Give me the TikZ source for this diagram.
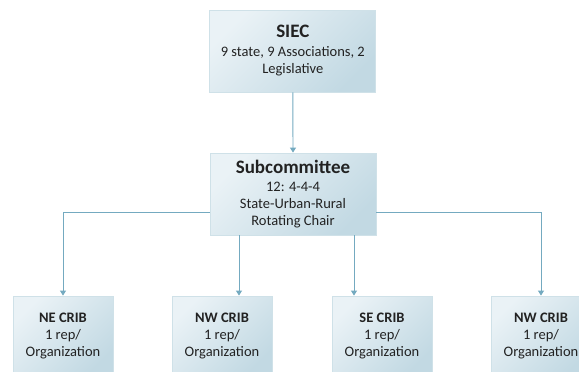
\documentclass[tikz,border=0pt]{standalone}
\usepackage{fontspec}
\setmainfont{Carlito}
\usetikzlibrary{arrows.meta}
\definecolor{boxlight}{HTML}{EAF2F6}
\definecolor{boxdark}{HTML}{C2D9E3}
\definecolor{boxline}{HTML}{CFE1E8}
\definecolor{conncol}{HTML}{74AAC0}
\definecolor{txt}{HTML}{222222}
\tikzset{
  orgbox/.style={draw=boxline, line width=0.8pt, top color=boxlight, bottom color=boxdark, shading angle=45,
    align=center, text=txt, inner sep=0pt, font=\fontsize{14.5}{17}\selectfont},
  topbox/.style={orgbox, minimum width=166pt, minimum height=82pt},
  cribbox/.style={orgbox, minimum width=100pt, minimum height=80pt},
  conn/.style={draw=conncol, line width=0.9pt, -{Triangle[width=6pt,length=5pt]}},
  connplain/.style={draw=conncol, line width=0.9pt},
  headA/.style={},
}
\newcommand{\hdbig}[1]{{\fontsize{19}{22}\selectfont\bfseries #1}}
\newcommand{\hdsmall}[1]{{\bfseries #1}}
\begin{document}
\begin{tikzpicture}[x=1pt,y=-1pt]
\useasboundingbox (0,0) rectangle (579,372);
\node[topbox] (siec) at (292.8,51) {\hdbig{SIEC}\\[2pt]9 state, 9 Associations, 2\\Legislative};
\node[topbox] (sub) at (293,194) {\hdbig{Subcommittee}\\[1pt]12: 4-4-4\\State-Urban-Rural\\Rotating Chair};
\node[cribbox] (ne) at (63,336) {\hdsmall{NE CRIB}\\1 rep/\\Organization};
\node[cribbox] (nw) at (222,336) {\hdsmall{NW CRIB}\\1 rep/\\Organization};
\node[cribbox] (se) at (382,336) {\hdsmall{SE CRIB}\\1 rep/\\Organization};
\node[cribbox] (nwb) at (541,336) {\hdsmall{NW CRIB}\\1 rep/\\Organization};
\coordinate (anw) at ([xshift=17pt]nw.north);
\coordinate (ase) at ([xshift=-28pt]se.north);
\draw[conn] (siec.south) -- (sub.north);
\draw[conn] ([yshift=-18.7pt]sub.west) -| (ne.north);
\draw[conn] ([yshift=-18.7pt]sub.east) -| (nwb.north);
\draw[conn] (sub.south -| anw) -- (anw);
\draw[conn] (sub.south -| ase) -- (ase);
\end{tikzpicture}
\end{document}
